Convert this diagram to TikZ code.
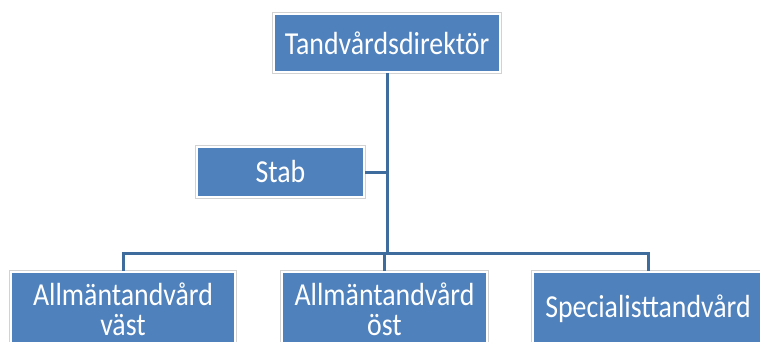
\documentclass[tikz,border=0pt]{standalone}
\usepackage{fontspec}
\setmainfont{Carlito}[FakeStretch=0.87]
\usetikzlibrary{positioning}
\definecolor{boxblue}{RGB}{79,129,189}
\definecolor{linkblue}{RGB}{62,108,156}
\tikzset{
    unit/.style = {
        rectangle,
        fill = boxblue,
        draw = white,
        line width = 2pt,
        preaction = {draw = gray!35, line width = 3.5pt},
        text = white,
        align = center,
        inner sep = 0pt,
        font = \fontsize{32}{30}\selectfont,
        },
    link/.style = {
        draw = linkblue,
        line width = 3pt,
        },
}

\begin{document}
\begin{tikzpicture}[x=1pt, y=-1pt]
    \clip (0,0) rectangle (760,342);
    \useasboundingbox (0,0) rectangle (760,342);

    \node[unit, minimum width=226pt, minimum height=58pt] (dir) at (387,43) {Tandvårdsdirektör};
    \node[unit, minimum width=167pt, minimum height=50pt] (stab) at (280.5,172) {Stab};
    \node[unit, minimum width=224pt, minimum height=74pt] (vast) at (123,309) {Allmäntandvård\\väst};
    \node[unit, minimum width=205pt, minimum height=74pt] (ost) at (384.5,309) {Allmäntandvård\\öst};
    \node[unit, minimum width=230pt, minimum height=74pt] (spec) at (648,309) {Specialisttandvård};

    \coordinate (bus) at (387,253);

    \path[link] (dir.south) -- (bus);
    \path[link] (stab.east) -- (stab.east -| dir.south);
    \path[link] (vast.north) |- (bus) -| (spec.north);
    \path[link] (ost.north) -- (ost.north |- bus);
\end{tikzpicture}
\end{document}
